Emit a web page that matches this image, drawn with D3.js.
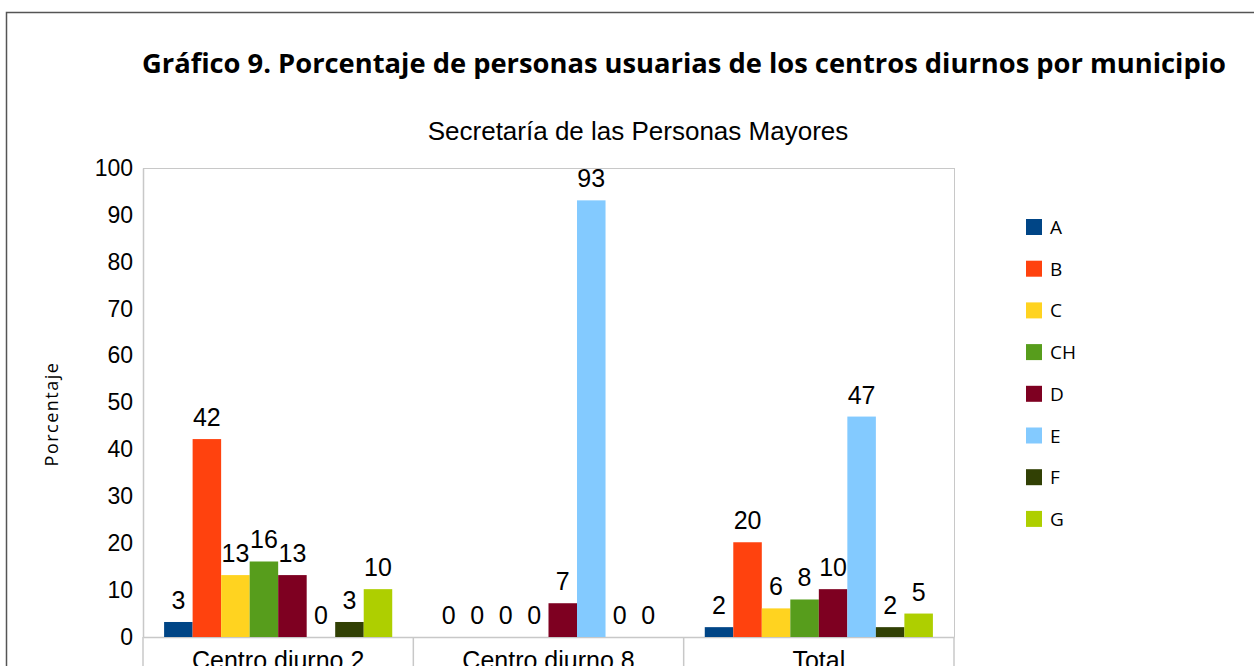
<!DOCTYPE html>
<html>
<head>
<meta charset="utf-8">
<script src="https://cdn.jsdelivr.net/npm/d3@7"></script>
<style>
  body { margin: 0; background: #fff; }
  svg { display: block; }
</style>
</head>
<body>
<script>
// chart data
var categories = ["Centro diurno 2", "Centro diurno 8", "Total"]
var seriesNames = ["A", "B", "C", "CH", "D", "E", "F", "G"]
var colors = ["#004586", "#ff420e", "#ffd320", "#579d1c", "#7e0021", "#83caff", "#314004", "#aecf00"]
var cd2 = [3.2, 42.2, 13.2, 16.1, 13.2, 0, 3.2, 10.2]
var cd8 = [0, 0, 0, 0, 7.2, 93.1, 0, 0]
var total = [2.1, 20.2, 6.1, 8.0, 10.2, 47.0, 2.1, 5.0]
var yTicks = [0, 10, 20, 30, 40, 50, 60, 70, 80, 90, 100]

var values = [cd2, cd8, total]

var width = 1254, height = 666
// plot area (note: "top" is reserved on window, so prefixed names)
var plotLeft = 143, plotRight = 954, plotTop = 168, plotBottom = 637

var svg = d3.select("body").append("svg")
  .attr("width", width)
  .attr("height", height)

// outer frame
svg.append("rect")
  .attr("x", 6.5)
  .attr("y", 12.5)
  .attr("width", width + 10)
  .attr("height", height + 10)
  .attr("fill", "none")
  .attr("stroke", "#555")
  .attr("stroke-width", 1.5)

svg.append("text")
  .attr("x", 142)
  .attr("y", 73)
  .attr("textLength", 1084)
  .attr("lengthAdjust", "spacingAndGlyphs")
  .style("font-family", "Open Sans")
  .style("font-weight", "bold")
  .style("font-size", "26px")
  .text("Gráfico 9. Porcentaje de personas usuarias de los centros diurnos por municipio")

svg.append("text")
  .attr("x", 638)
  .attr("y", 140)
  .attr("text-anchor", "middle")
  .style("font-family", "Liberation Sans")
  .style("font-size", "26px")
  .text("Secretaría de las Personas Mayores")

var x0 = d3.scaleBand()
  .domain(categories)
  .range([plotLeft, plotRight])
  .paddingInner(0)
  .paddingOuter(0)

var x1 = d3.scaleBand()
  .domain(seriesNames)
  .range([0, x0.bandwidth()])
  .paddingOuter(0.74)

var y = d3.scaleLinear()
  .domain([0, 100])
  .range([plotBottom, plotTop])

// plot frame
svg.append("line")
  .attr("x1", plotLeft).attr("x2", plotRight)
  .attr("y1", plotTop + 0.5).attr("y2", plotTop + 0.5)
  .attr("stroke", "#c8c8c8")
svg.append("line")
  .attr("x1", plotRight + 0.5).attr("x2", plotRight + 0.5)
  .attr("y1", plotTop).attr("y2", plotBottom)
  .attr("stroke", "#c8c8c8")

var yAxis = svg.append("g")
  .attr("transform", "translate(" + plotLeft + ",0)")
  .call(d3.axisLeft(y).tickValues(yTicks).tickSize(0).tickPadding(10))
yAxis.select(".domain").attr("stroke", "#c8c8c8").attr("stroke-width", 1.5)
yAxis.selectAll("text")
  .style("font-family", "Liberation Sans")
  .style("font-size", "23px")
  .attr("fill", "#000")

var xAxis = svg.append("g")
  .attr("transform", "translate(0," + plotBottom + ")")
  .call(d3.axisBottom(x0).tickSize(0).tickPadding(14))
xAxis.select(".domain").attr("stroke", "#c8c8c8").attr("stroke-width", 1.5)
xAxis.selectAll("text")
  .style("font-family", "Liberation Sans")
  .style("font-size", "25px")
  .attr("fill", "#000")

// category separators below the axis
var seps = [plotLeft].concat(categories.map(function(c){ return x0(c) + x0.bandwidth() }))
svg.selectAll("line.sep")
  .data(seps)
  .enter()
  .append("line")
  .classed("sep", true)
  .attr("x1", function(d){ return d })
  .attr("x2", function(d){ return d })
  .attr("y1", plotBottom)
  .attr("y2", height)
  .attr("stroke", "#c8c8c8")
  .attr("stroke-width", 1.5)

svg.append("text")
  .attr("transform", "translate(58,414) rotate(-90)")
  .attr("text-anchor", "middle")
  .style("font-family", "Open Sans")
  .style("font-size", "18px")
  .style("letter-spacing", "1.5px")
  .text("Porcentaje")

var groups = svg.selectAll("g.group")
  .data(categories)
  .enter()
  .append("g")
  .classed("group", true)
  .attr("transform", function(d){ return "translate(" + x0(d) + ",0)" })

groups.selectAll("rect")
  .data(function(d, i){ return values[i] })
  .enter()
  .append("rect")
  .attr("x", function(d, i){ return x1(seriesNames[i]) })
  .attr("y", function(d){ return y(d) })
  .attr("width", x1.bandwidth())
  .attr("height", function(d){ return plotBottom - y(d) })
  .attr("fill", function(d, i){ return colors[i] })

groups.selectAll("text")
  .data(function(d, i){ return values[i] })
  .enter()
  .append("text")
  .attr("x", function(d, i){ return x1(seriesNames[i]) + x1.bandwidth() / 2 })
  .attr("y", function(d){ return y(d) - 13 })
  .attr("text-anchor", "middle")
  .style("font-family", "Liberation Sans")
  .style("font-size", "25px")
  .text(function(d){ return Math.round(d) })

// legend
var legend = svg.selectAll("g.legend")
  .data(seriesNames)
  .enter()
  .append("g")
  .classed("legend", true)
  .attr("transform", function(d, i){ return "translate(1026," + (227 + i * 41.7) + ")" })

legend.append("rect")
  .attr("x", 0)
  .attr("y", -8)
  .attr("width", 16)
  .attr("height", 16)
  .attr("fill", function(d, i){ return colors[i] })

legend.append("text")
  .attr("x", 24)
  .attr("y", 7)
  .style("font-family", "Open Sans")
  .style("font-size", "19px")
  .text(function(d){ return d })
</script>
</body>
</html>
